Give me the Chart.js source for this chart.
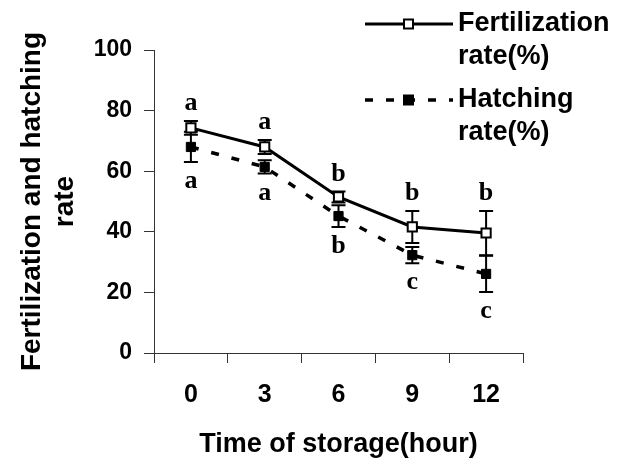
<!DOCTYPE html>
<html>
<head>
<meta charset="utf-8">
<script src="https://cdn.jsdelivr.net/npm/chart.js@4/dist/chart.umd.min.js"></script>
<style>
  html, body { margin: 0; padding: 0; background: #fff; }
</style>
</head>
<body>
<canvas id="chart" width="618" height="461"></canvas>
<script>
const hours = ['0', '3', '6', '9', '12'];
const fertRate = [74.3, 68.0, 51.5, 41.6, 39.6];
const fertErr = [2.3, 2.3, 1.8, 5.3, 7.3];
const hatchRate = [68.0, 61.4, 45.2, 32.3, 26.1];
const hatchErr = [5.0, 2.2, 3.6, 2.7, 6.0];
const fertLetters = ['a', 'a', 'b', 'b', 'b'];
const hatchLetters = ['a', 'a', 'b', 'c', 'c'];
const legendLabels = [['Fertilization', 'rate(%)'], ['Hatching', 'rate(%)']];

const SANS = "'Liberation Sans', Arial, sans-serif";
const SERIF = "'Liberation Serif', 'Times New Roman', serif";

// error bars drawn under the markers
const errorBars = {
  id: 'errorBars',
  beforeDatasetsDraw(chart) {
    const { ctx, scales: { x, y } } = chart;
    const errs = [fertErr, hatchErr];
    ctx.save();
    ctx.strokeStyle = '#000';
    ctx.lineWidth = 2;
    chart.data.datasets.forEach((ds, i) => {
      ds.data.forEach((v, j) => {
        const px = x.getPixelForValue(j);
        const top = y.getPixelForValue(v + errs[i][j]);
        const bot = y.getPixelForValue(v - errs[i][j]);
        ctx.beginPath();
        ctx.moveTo(px, top); ctx.lineTo(px, bot);
        ctx.moveTo(px - 7, top); ctx.lineTo(px + 7, top);
        ctx.moveTo(px - 7, bot); ctx.lineTo(px + 7, bot);
        ctx.stroke();
      });
    });
    ctx.restore();
  }
};

// significance letters above / below the bars
const letters = {
  id: 'letters',
  afterDatasetsDraw(chart) {
    const { ctx, scales: { x, y } } = chart;
    ctx.save();
    ctx.fillStyle = '#000';
    ctx.font = 'bold 26px ' + SERIF;
    ctx.textAlign = 'center';
    ctx.textBaseline = 'alphabetic';
    fertRate.forEach((v, j) => {
      ctx.fillText(fertLetters[j], x.getPixelForValue(j), y.getPixelForValue(v + fertErr[j]) - 11);
    });
    hatchRate.forEach((v, j) => {
      ctx.fillText(hatchLetters[j], x.getPixelForValue(j), y.getPixelForValue(v - hatchErr[j]) + 26);
    });
    ctx.restore();
  }
};

const sideLegend = {
  id: 'sideLegend',
  afterDraw(chart) {
    const ctx = chart.ctx;
    const rowsY = [24, 100];
    ctx.save();
    chart.data.datasets.forEach((ds, i) => {
      const yy = rowsY[i];
      ctx.strokeStyle = ds.borderColor;
      ctx.lineWidth = ds.borderWidth;
      ctx.setLineDash(ds.borderDash || []);
      ctx.beginPath();
      ctx.moveTo(365, yy); ctx.lineTo(453, yy);
      ctx.stroke();
      ctx.setLineDash([]);
      ctx.fillStyle = ds.pointBackgroundColor;
      ctx.lineWidth = 2;
      ctx.beginPath();
      ctx.rect(404, yy - 4.5, 9, 9);
      ctx.fill(); ctx.stroke();
      ctx.fillStyle = '#000';
      ctx.font = 'bold 27px ' + SANS;
      ctx.textAlign = 'left';
      ctx.textBaseline = 'middle';
      legendLabels[i].forEach((t, k) => ctx.fillText(t, 458, yy + k * 33));
    });
    ctx.restore();
  }
};

new Chart(document.getElementById('chart').getContext('2d'), {
  type: 'line',
  data: {
    labels: hours,
    datasets: [
      {
        label: 'Fertilization rate(%)',
        data: fertRate,
        borderColor: '#000',
        borderWidth: 3,
        pointStyle: 'rect',
        pointRadius: 6.5,
        pointBorderWidth: 2,
        pointBorderColor: '#000',
        pointBackgroundColor: '#fff'
      },
      {
        label: 'Hatching rate(%)',
        data: hatchRate,
        borderColor: '#000',
        borderWidth: 3.5,
        borderDash: [8, 13],
        pointStyle: 'rect',
        pointRadius: 6.5,
        pointBorderWidth: 1,
        pointBorderColor: '#000',
        pointBackgroundColor: '#000'
      }
    ]
  },
  options: {
    responsive: false,
    animation: false,
    layout: { padding: { left: 0, right: 95, top: 50, bottom: 0 } },
    plugins: { legend: { display: false }, tooltip: { enabled: false } },
    scales: {
      x: {
        type: 'category',
        offset: true,
        afterFit(s) { s.height = 108; },
        grid: { offset: true, drawOnChartArea: false, tickLength: 10, tickColor: '#333' },
        border: { color: '#333', width: 1 },
        ticks: { color: '#000', padding: 17, font: { family: SANS, size: 25, weight: 'bold' } },
        title: {
          display: true,
          text: 'Time of storage(hour)',
          color: '#000',
          padding: { top: 0, bottom: 0 },
          font: { family: SANS, size: 27, weight: 'bold' }
        }
      },
      y: {
        min: 0,
        max: 100,
        afterFit(s) { s.width = 154; },
        grid: { drawOnChartArea: false, tickLength: 10, tickColor: '#333' },
        border: { color: '#333', width: 1 },
        ticks: { stepSize: 20, color: '#000', padding: 12, font: { family: SANS, size: 23, weight: 'bold' } },
        title: {
          display: true,
          text: ['Fertilization and hatching', 'rate'],
          color: '#000',
          padding: { top: 15, bottom: 0 },
          font: { family: SANS, size: 28, weight: 'bold' }
        }
      }
    }
  },
  plugins: [errorBars, letters, sideLegend]
});
</script>
</body>
</html>
